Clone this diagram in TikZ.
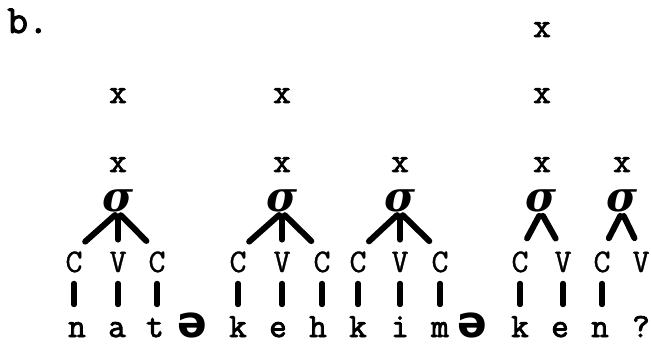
\documentclass[tikz,border=0pt]{standalone}
\usepackage{fontspec}
\newfontfamily\twbold{Latin Modern Mono}[FakeBold=2.5]
\newfontfamily\twmed{Latin Modern Mono}[FakeBold=1]
\newfontfamily\sigmafont{DejaVu Serif}
\newfontfamily\ipafont{DejaVu Sans}
\begin{document}
\begin{tikzpicture}[x=0.5pt, y=-0.5pt,
    every node/.style={inner sep=0pt, anchor=base},
    xmark/.style={font=\twbold\fontsize{17}{19}\selectfont},
    syl/.style={font=\sigmafont\bfseries\itshape\fontsize{21}{24}\selectfont, text depth=0pt},
    slot/.style={font=\twmed\fontsize{16.5}{20}\selectfont, text height=10pt, text depth=0pt},
    seg/.style={font=\twbold\fontsize{17}{20}\selectfont, text height=7pt, text depth=0pt},
    schwa/.style={font=\ipafont\bfseries\fontsize{22}{24}\selectfont},
    branch/.style={line width=3pt, line cap=round, shorten <=2pt},
    bar/.style={line width=2.6pt, line cap=round, shorten <=5.5pt, shorten >=9pt}]
\useasboundingbox (0,0) rectangle (651,346);
\node[xmark, font=\twbold\fontsize{20}{22}\selectfont, anchor=base west] (lbl) at (7,33) {b.};
% grid marks
\node[xmark] (top) at (542,37) {x};
\foreach \n/\xx in {1/118, 2/282, 3/542}
  \node[xmark] (mid\n) at (\xx,103) {x};
\foreach \n/\xx in {1/118, 2/282, 3/400, 4/542, 5/622}
  \node[xmark] (low\n) at (\xx,172) {x};
% syllables
\foreach \n/\xx in {1/118, 2/282, 3/400, 4/541, 5/622}
  \node[syl] (syl\n) at (\xx,212) {σ};
% skeleton slots and segments
\foreach \i/\xc/\cv/\xs/\sg in {1/74/C/77/n, 2/118/V/117/a, 3/157/C/155/t,
    4/238/C/238/k, 5/282/V/278/e, 6/322/C/318/h, 7/358/C/358/k, 8/400/V/400/i,
    9/440/C/440/m, 10/520/C/520/k, 11/563/V/560/e, 12/602/C/600/n, 13/641/V/641/?}
{
  \node[slot] (cv\i) at (\xc,272) {\cv};
  \node[seg] (sg\i) at (\xs,337) {\sg};
}
\node[schwa] (shwa1) at (192,337) {ə};
\node[schwa] (shwa2) at (472,337) {ə};
% association lines
\foreach \s/\c in {1/1,1/3,2/4,2/6,3/7,3/9,4/10,4/11,5/12,5/13}
  \draw[branch, shorten >=7.5pt] (syl\s.south) -- (cv\c.north);
\foreach \s/\c in {1/2,2/5,3/8}
  \draw[branch, shorten >=6pt] (syl\s.south) -- (cv\c.north);
\foreach \i in {1,...,12}
  \draw[bar] (cv\i.south) -- (cv\i.south |- sg\i.north);
\end{tikzpicture}
\end{document}
